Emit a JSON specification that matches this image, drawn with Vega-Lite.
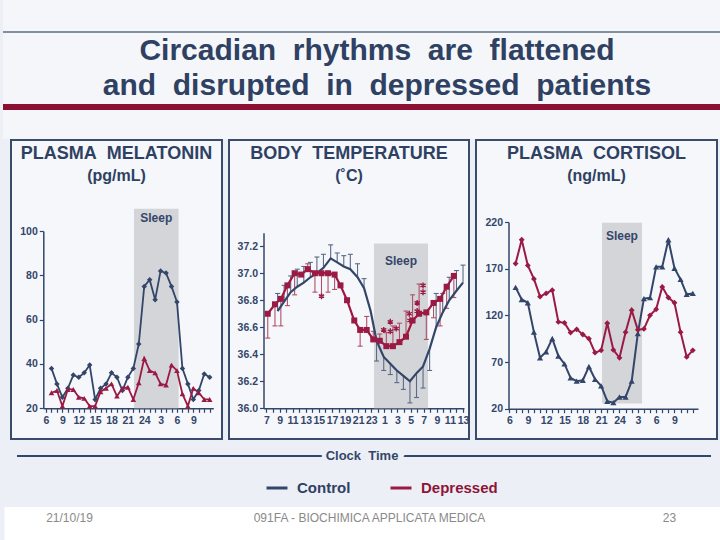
{
  "$schema": "https://vega.github.io/schema/vega-lite/v6.json",
  "padding": 0,
  "background": "#eceff5",
  "spacing": 0,
  "center": true,
  "resolve": {"scale": {"color": "shared"}, "legend": {"color": "shared"}},
  "config": {
    "view": {"stroke": null},
    "font": "Liberation Sans",
    "axis": {"grid": false, "title": null, "domainColor": "#33466a", "domainWidth": 1.5, "tickColor": "#33466a", "tickWidth": 1.2, "tickSize": 4, "labelColor": "#33466a", "labelFont": "Liberation Sans", "labelFontWeight": "bold", "labelFontSize": 10.5, "labelOverlap": false, "labelFlush": false, "labelBound": false, "labelPadding": 3, "zindex": 1},
    "axisX": {"labelOverlap": false, "labelSeparation": 0},
    "title": {"font": "Liberation Sans", "fontSize": 18, "fontWeight": "bold", "color": "#2f4163", "subtitleFont": "Liberation Sans", "subtitleFontSize": 16, "subtitleFontWeight": "bold", "subtitleColor": "#2f4163", "subtitlePadding": 5, "anchor": "middle", "offset": -44}
  },
  "vconcat": [
    {
      "width": 720,
      "height": 139,
      "view": {"fill": "#f4f6f9"},
      "data": {"values": [
        {"el": "top"},
        {"el": "title", "text": "Circadian\u00a0 rhythms\u00a0 are\u00a0 flattened\nand\u00a0 disrupted\u00a0 in\u00a0 depressed\u00a0 patients"},
        {"el": "bar"}
      ]},
      "encoding": {"y": {"field": "el", "type": "nominal", "scale": {"type": "point", "domain": ["top", "title", "bar"], "range": [32, 107], "padding": 0}, "axis": null}},
      "layer": [
        {"transform": [{"filter": "datum.el == 'top'"}], "mark": {"type": "rule", "color": "#5d6b85", "strokeWidth": 1.5}, "encoding": {}},
        {"transform": [{"filter": "datum.el == 'bar'"}], "mark": {"type": "rule", "color": "#8c1034", "strokeWidth": 6}, "encoding": {}},
        {"transform": [{"filter": "datum.el == 'title'"}], "mark": {"type": "text", "lineBreak": "\n", "lineHeight": 35, "fontSize": 30, "font": "Liberation Sans", "fontWeight": "bold", "color": "#2f4163", "align": "center", "baseline": "alphabetic", "dx": 14, "dy": -9.5}, "encoding": {"text": {"field": "text"}}}
      ]
    },
    {
      "spacing": 5,
      "resolve": {"scale": {"color": "shared"}, "legend": {"color": "shared"}},
      "hconcat": [
        {
          "width": 211,
          "height": 299,
          "view": {"fill": "#f5f7fa", "stroke": "#3b4b6b", "strokeWidth": 2},
          "title": {"text": "PLASMA\u00a0 MELATONIN", "subtitle": "(pg/mL)"},
          "layer": [
            {
              "data": {"values": [{"start": 22.13, "end": 30.3, "bottom": 20, "top": 110, "mid": 26.2, "label": "Sleep"}]},
              "layer": [
                {"mark": {"type": "rect", "color": "#d4d5d9"},
                 "encoding": {
                   "x": {"field": "start", "type": "quantitative", "scale": {"domain": [5.5, 36.66], "range": [32.3, 202.3], "nice": false, "zero": false},
                         "axis": {"values": [6,7,8,9,10,11,12,13,14,15,16,17,18,19,20,21,22,23,24,25,26,27,28,29,30,31,32,33,34,35,36], "labelExpr": "(datum.value - 6) % 3 == 0 && datum.value <= 33 ? '' + (datum.value > 24 ? datum.value - 24 : datum.value) : ''", "offset": -30.7, "labelOverlap": false, "tickCount": 31}},
                   "x2": {"field": "end"},
                   "y": {"field": "bottom", "type": "quantitative", "scale": {"domain": [20, 100], "range": [268.3, 91], "nice": false, "zero": false},
                         "axis": {"values": [20, 40, 60, 80, 100], "offset": -32.3, "labelPadding": 2}},
                   "y2": {"field": "top"}
                 }},
                {"mark": {"type": "text", "font": "Liberation Sans", "fontWeight": "bold", "fontSize": 12, "color": "#33466a", "baseline": "middle", "dy": 9},
                 "encoding": {"x": {"field": "mid", "type": "quantitative"}, "y": {"field": "top", "type": "quantitative"}, "text": {"field": "label"}}}
              ]
            },
            {
              "data": {"values": [
                {"hour":7,"series":"Control","value":38},{"hour":8,"series":"Control","value":31},{"hour":9,"series":"Control","value":25},{"hour":10,"series":"Control","value":29},{"hour":11,"series":"Control","value":35},{"hour":12,"series":"Control","value":34},{"hour":13,"series":"Control","value":36},{"hour":14,"series":"Control","value":39.5},{"hour":15,"series":"Control","value":24},{"hour":16,"series":"Control","value":29},{"hour":17,"series":"Control","value":31},{"hour":18,"series":"Control","value":36},{"hour":19,"series":"Control","value":34},{"hour":20,"series":"Control","value":28},{"hour":21,"series":"Control","value":34},{"hour":22,"series":"Control","value":38},{"hour":23,"series":"Control","value":49},{"hour":24,"series":"Control","value":75},{"hour":25,"series":"Control","value":78},{"hour":26,"series":"Control","value":69},{"hour":27,"series":"Control","value":82},{"hour":28,"series":"Control","value":81},{"hour":29,"series":"Control","value":75},{"hour":30,"series":"Control","value":68},{"hour":31,"series":"Control","value":38},{"hour":32,"series":"Control","value":31},{"hour":33,"series":"Control","value":24},{"hour":34,"series":"Control","value":28},{"hour":35,"series":"Control","value":35.5},{"hour":36,"series":"Control","value":34},
                {"hour":7,"series":"Depressed","value":27},{"hour":8,"series":"Depressed","value":28},{"hour":9,"series":"Depressed","value":21},{"hour":10,"series":"Depressed","value":28.5},{"hour":11,"series":"Depressed","value":28.5},{"hour":12,"series":"Depressed","value":25},{"hour":13,"series":"Depressed","value":24.5},{"hour":14,"series":"Depressed","value":21},{"hour":15,"series":"Depressed","value":21},{"hour":16,"series":"Depressed","value":27.5},{"hour":17,"series":"Depressed","value":29},{"hour":18,"series":"Depressed","value":31},{"hour":19,"series":"Depressed","value":25.5},{"hour":20,"series":"Depressed","value":29},{"hour":21,"series":"Depressed","value":29.5},{"hour":22,"series":"Depressed","value":24},{"hour":23,"series":"Depressed","value":31.5},{"hour":24,"series":"Depressed","value":42.5},{"hour":25,"series":"Depressed","value":37},{"hour":26,"series":"Depressed","value":36},{"hour":27,"series":"Depressed","value":31},{"hour":28,"series":"Depressed","value":30.5},{"hour":29,"series":"Depressed","value":39.5},{"hour":30,"series":"Depressed","value":37},{"hour":31,"series":"Depressed","value":26.5},{"hour":32,"series":"Depressed","value":21},{"hour":33,"series":"Depressed","value":29},{"hour":34,"series":"Depressed","value":27},{"hour":35,"series":"Depressed","value":24},{"hour":36,"series":"Depressed","value":24}
              ]},
              "layer": [
                {"mark": {"type": "line", "strokeWidth": 1.8},
                 "encoding": {"x": {"field": "hour", "type": "quantitative"}, "y": {"field": "value", "type": "quantitative"},
                   "color": {"field": "series", "type": "nominal", "scale": {"domain": ["Control", "Depressed"], "range": ["#33466a", "#9b1a44"]},
                     "legend": {"title": null, "orient": "none", "legendX": 262, "legendY": 476, "direction": "horizontal", "symbolType": "stroke", "symbolSize": 440, "symbolStrokeWidth": 3, "labelFontSize": 15, "labelFont": "Liberation Sans", "labelFontWeight": "bold", "labelOffset": 8, "columnPadding": 33, "padding": 0,
                       "encode": {"labels": {"update": {"fill": {"signal": "datum.value == 'Control' ? '#2f4163' : '#8e1538'"}}}}}}}},
                {"transform": [{"filter": "datum.series == 'Control'"}], "mark": {"type": "point", "shape": "diamond", "filled": true, "size": 30, "color": "#33466a", "opacity": 1},
                 "encoding": {"x": {"field": "hour", "type": "quantitative"}, "y": {"field": "value", "type": "quantitative"}}},
                {"transform": [{"filter": "datum.series == 'Depressed'"}], "mark": {"type": "point", "shape": "triangle-up", "filled": true, "size": 32, "color": "#9b1a44", "opacity": 1},
                 "encoding": {"x": {"field": "hour", "type": "quantitative"}, "y": {"field": "value", "type": "quantitative"}}}
              ]
            }
          ]
        },
        {
          "width": 240,
          "height": 299,
          "view": {"fill": "#f5f7fa", "stroke": "#3b4b6b", "strokeWidth": 2},
          "title": {"text": "BODY\u00a0 TEMPERATURE", "subtitle": "(˚C)"},
          "layer": [
            {
              "data": {"values": [{"start": 23.41, "end": 31.65, "bottom": 36.0, "top": 37.22, "mid": 27.53, "label": "Sleep"}]},
              "layer": [
                {"mark": {"type": "rect", "color": "#d4d5d9"},
                 "encoding": {
                   "x": {"field": "start", "type": "quantitative", "scale": {"domain": [6.55, 37.15], "range": [34.5, 235], "nice": false, "zero": false},
                         "axis": {"values": [7,8,9,10,11,12,13,14,15,16,17,18,19,20,21,22,23,24,25,26,27,28,29,30,31,32,33,34,35,36,37], "labelExpr": "datum.value % 2 == 1 ? '' + (datum.value > 24 ? datum.value - 24 : datum.value) : ''", "offset": -30.7, "labelOverlap": false, "tickCount": 31}},
                   "x2": {"field": "end"},
                   "y": {"field": "bottom", "type": "quantitative", "scale": {"domain": [36.0, 37.3], "range": [268.3, 92.7], "nice": false, "zero": false},
                         "axis": {"values": [36.0, 36.1, 36.2, 36.3, 36.4, 36.5, 36.6, 36.7, 36.8, 36.9, 37.0, 37.1, 37.2, 37.3], "labelExpr": "(round(datum.value * 10) % 2 == 0 && datum.value < 37.25) ? format(datum.value, '.1f') : ''", "offset": -34.5, "labelPadding": 2}},
                   "y2": {"field": "top"}
                 }},
                {"mark": {"type": "text", "font": "Liberation Sans", "fontWeight": "bold", "fontSize": 12, "color": "#33466a", "baseline": "middle", "dy": 17},
                 "encoding": {"x": {"field": "mid", "type": "quantitative"}, "y": {"field": "top", "type": "quantitative"}, "text": {"field": "label"}}}
              ]
            },
            {
              "data": {"values": [
                {"hour":8.7,"series":"Control","value":36.72,"cap":36.85},{"hour":9.7,"series":"Control","value":36.79,"cap":36.91},{"hour":10.7,"series":"Control","value":36.86,"cap":36.98},{"hour":11.7,"series":"Control","value":36.90,"cap":37.03},{"hour":12.7,"series":"Control","value":36.93,"cap":37.05},{"hour":13.7,"series":"Control","value":36.97,"cap":37.08},{"hour":14.7,"series":"Control","value":37.00,"cap":37.12},{"hour":15.7,"series":"Control","value":37.04,"cap":37.14},{"hour":16.8,"series":"Control","value":37.11,"cap":37.21},{"hour":17.8,"series":"Control","value":37.08,"cap":37.15},{"hour":18.8,"series":"Control","value":37.05,"cap":37.13},{"hour":19.8,"series":"Control","value":37.03,"cap":37.14},{"hour":20.9,"series":"Control","value":36.97,"cap":37.07},{"hour":21.9,"series":"Control","value":36.89,"cap":36.96},{"hour":22.9,"series":"Control","value":36.72,"cap":null},{"hour":23.8,"series":"Control","value":36.50,"cap":36.35},{"hour":24.9,"series":"Control","value":36.38,"cap":36.28},{"hour":25.9,"series":"Control","value":36.33,"cap":36.25},{"hour":26.9,"series":"Control","value":36.28,"cap":36.19},{"hour":27.9,"series":"Control","value":36.24,"cap":36.14},{"hour":28.9,"series":"Control","value":36.20,"cap":36.04},{"hour":29.9,"series":"Control","value":36.26,"cap":36.08},{"hour":30.9,"series":"Control","value":36.31,"cap":36.15},{"hour":31.9,"series":"Control","value":36.44,"cap":36.28},{"hour":32.9,"series":"Control","value":36.60,"cap":36.85},{"hour":33.9,"series":"Control","value":36.71,"cap":36.85},{"hour":34.9,"series":"Control","value":36.80,"cap":36.97},{"hour":36.0,"series":"Control","value":36.87,"cap":37.02},{"hour":37.0,"series":"Control","value":36.93,"cap":37.06},
                {"hour":7.2,"series":"Depressed","value":36.70,"cap":36.52},{"hour":8.3,"series":"Depressed","value":36.77,"cap":36.61},{"hour":9.2,"series":"Depressed","value":36.81,"cap":36.61},{"hour":10.2,"series":"Depressed","value":36.91,"cap":36.76},{"hour":11.3,"series":"Depressed","value":37.00,"cap":36.84},{"hour":12.3,"series":"Depressed","value":36.99,"cap":null},{"hour":13.3,"series":"Depressed","value":37.03,"cap":37.07},{"hour":14.4,"series":"Depressed","value":37.00,"cap":36.86},{"hour":15.4,"series":"Depressed","value":37.00,"cap":36.83},{"hour":16.4,"series":"Depressed","value":37.00,"cap":36.86},{"hour":17.4,"series":"Depressed","value":36.99,"cap":36.88},{"hour":18.3,"series":"Depressed","value":36.91,"cap":null},{"hour":19.3,"series":"Depressed","value":36.80,"cap":null},{"hour":20.4,"series":"Depressed","value":36.65,"cap":null},{"hour":21.3,"series":"Depressed","value":36.58,"cap":36.46},{"hour":22.3,"series":"Depressed","value":36.58,"cap":36.68},{"hour":23.3,"series":"Depressed","value":36.51,"cap":36.57},{"hour":24.3,"series":"Depressed","value":36.50,"cap":36.55},{"hour":25.3,"series":"Depressed","value":36.46,"cap":36.56},{"hour":26.3,"series":"Depressed","value":36.46,"cap":36.61},{"hour":27.3,"series":"Depressed","value":36.49,"cap":36.63},{"hour":28.3,"series":"Depressed","value":36.53,"cap":36.72},{"hour":29.3,"series":"Depressed","value":36.65,"cap":36.84},{"hour":30.3,"series":"Depressed","value":36.70,"cap":36.92},{"hour":31.4,"series":"Depressed","value":36.71,"cap":36.51},{"hour":32.5,"series":"Depressed","value":36.78,"cap":36.67},{"hour":33.5,"series":"Depressed","value":36.81,"cap":36.61},{"hour":34.5,"series":"Depressed","value":36.90,"cap":36.74},{"hour":35.6,"series":"Depressed","value":36.98,"cap":36.82}
              ]},
              "layer": [
                {"transform": [{"filter": "datum.series == 'Control' && isValid(datum.cap)"}], "mark": {"type": "rule", "color": "#5a6a8a", "strokeWidth": 1.1},
                 "encoding": {"x": {"field": "hour", "type": "quantitative"}, "y": {"field": "value", "type": "quantitative"}, "y2": {"field": "cap"}}},
                {"transform": [{"filter": "datum.series == 'Control' && isValid(datum.cap)"}], "mark": {"type": "tick", "orient": "horizontal", "size": 5, "thickness": 1.1, "color": "#5a6a8a", "opacity": 1},
                 "encoding": {"x": {"field": "hour", "type": "quantitative"}, "y": {"field": "cap", "type": "quantitative"}}},
                {"transform": [{"filter": "datum.series == 'Depressed' && isValid(datum.cap)"}], "mark": {"type": "rule", "color": "#b0506a", "strokeWidth": 1.1},
                 "encoding": {"x": {"field": "hour", "type": "quantitative"}, "y": {"field": "value", "type": "quantitative"}, "y2": {"field": "cap"}}},
                {"transform": [{"filter": "datum.series == 'Depressed' && isValid(datum.cap)"}], "mark": {"type": "tick", "orient": "horizontal", "size": 5, "thickness": 1.1, "color": "#b0506a", "opacity": 1},
                 "encoding": {"x": {"field": "hour", "type": "quantitative"}, "y": {"field": "cap", "type": "quantitative"}}},
                {"mark": {"type": "line", "strokeWidth": 2.2},
                 "encoding": {"x": {"field": "hour", "type": "quantitative"}, "y": {"field": "value", "type": "quantitative"},
                   "color": {"field": "series", "type": "nominal", "scale": {"domain": ["Control", "Depressed"], "range": ["#33466a", "#9b1a44"]}}}},
                {"transform": [{"filter": "datum.series == 'Depressed'"}], "mark": {"type": "point", "shape": "square", "filled": true, "size": 36, "color": "#9b1a44", "opacity": 1},
                 "encoding": {"x": {"field": "hour", "type": "quantitative"}, "y": {"field": "value", "type": "quantitative"}}}
              ]
            },
            {
              "data": {"values": [
                {"hour":15.4,"value":36.83},{"hour":24.9,"value":36.58},{"hour":25.9,"value":36.64},{"hour":25.9,"value":36.57},{"hour":26.8,"value":36.59},{"hour":28.8,"value":36.70},{"hour":28.9,"value":36.65},{"hour":30.0,"value":36.78},{"hour":30.0,"value":36.72},{"hour":30.9,"value":36.91},{"hour":30.9,"value":36.86}
              ]},
              "mark": {"type": "point", "shape": "M0,-1L0,1M-0.87,-0.5L0.87,0.5M-0.87,0.5L0.87,-0.5", "filled": false, "size": 36, "strokeWidth": 1.4, "color": "#9b1a44", "opacity": 1},
              "encoding": {"x": {"field": "hour", "type": "quantitative"}, "y": {"field": "value", "type": "quantitative"}}
            }
          ]
        },
        {
          "width": 241,
          "height": 299,
          "view": {"fill": "#f5f7fa", "stroke": "#3b4b6b", "strokeWidth": 2},
          "title": {"text": "PLASMA\u00a0 CORTISOL", "subtitle": "(ng/mL)"},
          "layer": [
            {
              "data": {"values": [{"start": 21.14, "end": 27.69, "bottom": 25.7, "top": 219.3, "mid": 24.4, "label": "Sleep"}]},
              "layer": [
                {"mark": {"type": "rect", "color": "#d4d5d9"},
                 "encoding": {
                   "x": {"field": "start", "type": "quantitative", "scale": {"domain": [5.84, 36.85], "range": [32.5, 222], "nice": false, "zero": false},
                         "axis": {"values": [6,7,8,9,10,11,12,13,14,15,16,17,18,19,20,21,22,23,24,25,26,27,28,29,30,31,32,33,34,35,36], "labelExpr": "(datum.value - 6) % 3 == 0 && datum.value <= 33 ? '' + (datum.value > 24 ? datum.value - 24 : datum.value) : ''", "offset": -30.3, "labelOverlap": false, "tickCount": 31}},
                   "x2": {"field": "end"},
                   "y": {"field": "bottom", "type": "quantitative", "scale": {"domain": [20, 220], "range": [268.7, 82], "nice": false, "zero": false},
                         "axis": {"values": [20, 70, 120, 170, 220], "offset": -32.5, "labelPadding": 2}},
                   "y2": {"field": "top"}
                 }},
                {"mark": {"type": "text", "font": "Liberation Sans", "fontWeight": "bold", "fontSize": 12, "color": "#33466a", "baseline": "middle", "dy": 13},
                 "encoding": {"x": {"field": "mid", "type": "quantitative"}, "y": {"field": "top", "type": "quantitative"}, "text": {"field": "label"}}}
              ]
            },
            {
              "data": {"values": [
                {"hour":7,"series":"Control","value":150},{"hour":8,"series":"Control","value":137},{"hour":9,"series":"Control","value":133.5},{"hour":10,"series":"Control","value":102},{"hour":11,"series":"Control","value":74.5},{"hour":12,"series":"Control","value":81},{"hour":13,"series":"Control","value":95},{"hour":14,"series":"Control","value":76.5},{"hour":15,"series":"Control","value":68},{"hour":16,"series":"Control","value":53},{"hour":17,"series":"Control","value":49.5},{"hour":18,"series":"Control","value":50.5},{"hour":19,"series":"Control","value":65},{"hour":20,"series":"Control","value":51.5},{"hour":21,"series":"Control","value":44.5},{"hour":22,"series":"Control","value":28},{"hour":23,"series":"Control","value":26.5},{"hour":24,"series":"Control","value":32.5},{"hour":25,"series":"Control","value":32.5},{"hour":26,"series":"Control","value":49.5},{"hour":27,"series":"Control","value":100.5},{"hour":28,"series":"Control","value":138},{"hour":29,"series":"Control","value":139},{"hour":30,"series":"Control","value":172},{"hour":31,"series":"Control","value":172},{"hour":32,"series":"Control","value":201},{"hour":33,"series":"Control","value":170.5},{"hour":34,"series":"Control","value":158.5},{"hour":35,"series":"Control","value":142.5},{"hour":36,"series":"Control","value":143.5},
                {"hour":7,"series":"Depressed","value":175.5},{"hour":8,"series":"Depressed","value":201},{"hour":9,"series":"Depressed","value":173.5},{"hour":10,"series":"Depressed","value":159},{"hour":11,"series":"Depressed","value":140},{"hour":12,"series":"Depressed","value":143.5},{"hour":13,"series":"Depressed","value":147},{"hour":14,"series":"Depressed","value":113},{"hour":15,"series":"Depressed","value":112},{"hour":16,"series":"Depressed","value":101.5},{"hour":17,"series":"Depressed","value":105},{"hour":18,"series":"Depressed","value":99.5},{"hour":19,"series":"Depressed","value":95},{"hour":20,"series":"Depressed","value":80},{"hour":21,"series":"Depressed","value":82.5},{"hour":22,"series":"Depressed","value":111.5},{"hour":23,"series":"Depressed","value":83},{"hour":24,"series":"Depressed","value":74.5},{"hour":25,"series":"Depressed","value":102},{"hour":26,"series":"Depressed","value":125.5},{"hour":27,"series":"Depressed","value":104.5},{"hour":28,"series":"Depressed","value":105.5},{"hour":29,"series":"Depressed","value":120},{"hour":30,"series":"Depressed","value":126.5},{"hour":31,"series":"Depressed","value":150.5},{"hour":32,"series":"Depressed","value":139},{"hour":33,"series":"Depressed","value":133.5},{"hour":34,"series":"Depressed","value":102},{"hour":35,"series":"Depressed","value":75.5},{"hour":36,"series":"Depressed","value":82.5}
              ]},
              "layer": [
                {"mark": {"type": "line", "strokeWidth": 2},
                 "encoding": {"x": {"field": "hour", "type": "quantitative"}, "y": {"field": "value", "type": "quantitative"},
                   "color": {"field": "series", "type": "nominal", "scale": {"domain": ["Control", "Depressed"], "range": ["#33466a", "#9b1a44"]}}}},
                {"transform": [{"filter": "datum.series == 'Control'"}], "mark": {"type": "point", "shape": "triangle-up", "filled": true, "size": 38, "color": "#33466a", "opacity": 1},
                 "encoding": {"x": {"field": "hour", "type": "quantitative"}, "y": {"field": "value", "type": "quantitative"}}},
                {"transform": [{"filter": "datum.series == 'Depressed'"}], "mark": {"type": "point", "shape": "diamond", "filled": true, "size": 34, "color": "#9b1a44", "opacity": 1},
                 "encoding": {"x": {"field": "hour", "type": "quantitative"}, "y": {"field": "value", "type": "quantitative"}}}
              ]
            }
          ]
        }
      ]
    },
    {
      "width": 694,
      "height": 67,
      "data": {"values": [{"el": "clock", "text": "Clock\u00a0 Time"}]},
      "encoding": {"y": {"field": "el", "type": "nominal", "scale": {"type": "point", "domain": ["clock", "legend"], "range": [16, 47], "padding": 0}, "axis": null}},
      "layer": [
        {"mark": {"type": "rule", "color": "#33466a", "strokeWidth": 2}, "encoding": {}},
        {"mark": {"type": "text", "fontSize": 13, "fontWeight": "bold", "font": "Liberation Sans", "color": "#eceff5", "stroke": "#eceff5", "strokeWidth": 9, "baseline": "middle", "dx": -2}, "encoding": {"text": {"field": "text"}}},
        {"mark": {"type": "text", "fontSize": 13, "fontWeight": "bold", "font": "Liberation Sans", "color": "#33466a", "baseline": "middle", "dx": -2}, "encoding": {"text": {"field": "text"}}}
      ]
    },
    {
      "width": 720,
      "height": 35,
      "view": {"fill": "#ffffff"},
      "data": {"values": [
        {"slot": "date", "text": "21/10/19"},
        {"slot": "course", "text": "091FA - BIOCHIMICA APPLICATA MEDICA"},
        {"slot": "page", "text": "23"}
      ]},
      "mark": {"type": "text", "fontSize": 12, "font": "Liberation Sans", "color": "#8a8a8a", "baseline": "middle", "dy": -6.5},
      "encoding": {
        "x": {"field": "slot", "type": "nominal", "scale": {"type": "point", "domain": ["date", "course", "page"], "range": [65, 665], "padding": 0}, "axis": null},
        "text": {"field": "text"}
      }
    }
  ]
}
